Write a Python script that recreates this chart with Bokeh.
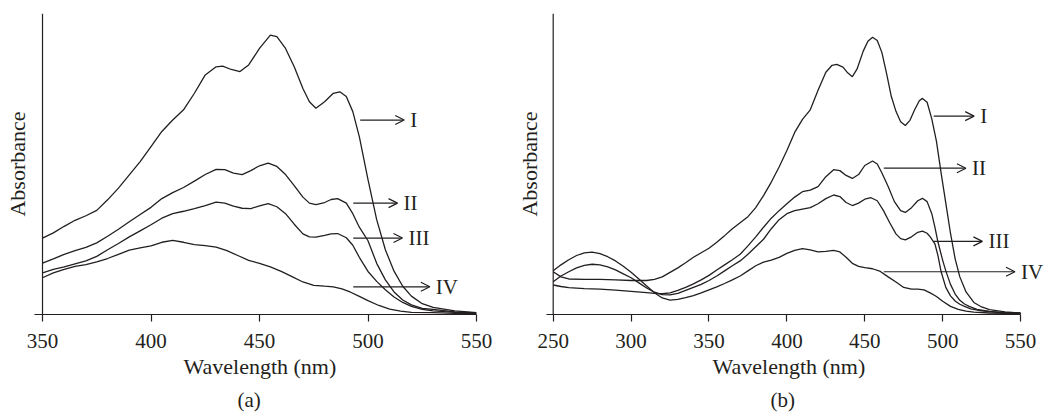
from bokeh.plotting import figure
from bokeh.layouts import row
from bokeh.models import Range1d, FixedTicker, Span, Arrow, OpenHead, Label, Title
from bokeh.embed import file_html
from bokeh.resources import INLINE

# ---------------- data: panel (a) ----------------
a_I_nm = [350, 355, 360, 365, 370, 375, 380, 385, 390, 395, 400, 405, 410, 415, 420, 425, 430, 433, 437, 441,
          445, 450, 455, 458, 462, 466, 470, 473, 476, 480, 484, 487, 490, 493, 496, 500, 504, 508, 512, 516,
          520, 525, 530, 540, 550]
a_I_abs = [0.254, 0.271, 0.293, 0.313, 0.328, 0.346, 0.381, 0.420, 0.464, 0.508, 0.558, 0.608, 0.646, 0.680, 0.735,
           0.796, 0.823, 0.825, 0.814, 0.807, 0.829, 0.884, 0.928, 0.923, 0.884, 0.823, 0.751, 0.707, 0.685, 0.707,
           0.735, 0.740, 0.724, 0.674, 0.591, 0.448, 0.315, 0.215, 0.144, 0.094, 0.061, 0.036, 0.024, 0.012, 0.006]

a_II_nm = [350, 355, 360, 365, 370, 375, 380, 385, 390, 395, 400, 405, 410, 415, 420, 425, 430, 434, 438, 442,
           446, 450, 454, 458, 462, 466, 470, 473, 476, 480, 483, 486, 490, 493, 496, 500, 504, 508, 512, 516,
           520, 525, 530, 540, 550]
a_II_abs = [0.171, 0.185, 0.200, 0.212, 0.223, 0.238, 0.260, 0.283, 0.308, 0.332, 0.356, 0.385, 0.405, 0.422, 0.443,
            0.465, 0.482, 0.481, 0.470, 0.465, 0.478, 0.494, 0.503, 0.492, 0.465, 0.428, 0.390, 0.370, 0.365, 0.372,
            0.382, 0.385, 0.370, 0.335, 0.290, 0.245, 0.170, 0.115, 0.075, 0.048, 0.032, 0.020, 0.017, 0.009, 0.005]

a_III_nm = a_II_nm
a_III_abs = [0.138, 0.150, 0.158, 0.168, 0.178, 0.193, 0.215, 0.236, 0.258, 0.278, 0.298, 0.320, 0.335, 0.343, 0.352,
             0.362, 0.373, 0.370, 0.360, 0.353, 0.352, 0.361, 0.368, 0.358, 0.335, 0.300, 0.268, 0.258, 0.257, 0.263,
             0.268, 0.269, 0.255, 0.230, 0.190, 0.143, 0.110, 0.082, 0.058, 0.040, 0.027, 0.017, 0.012, 0.007, 0.004]

a_IV_nm = [350, 355, 360, 365, 370, 375, 380, 385, 390, 395, 400, 405, 410, 415, 420, 425, 430, 435, 440, 445,
           450, 455, 460, 465, 470, 475, 480, 484, 488, 492, 496, 500, 505, 510, 515, 520, 530, 540, 550]
a_IV_abs = [0.122, 0.138, 0.150, 0.160, 0.166, 0.175, 0.186, 0.200, 0.214, 0.221, 0.228, 0.240, 0.246, 0.240, 0.232,
            0.229, 0.224, 0.212, 0.196, 0.180, 0.170, 0.158, 0.143, 0.126, 0.108, 0.097, 0.094, 0.092, 0.085, 0.074,
            0.060, 0.046, 0.030, 0.018, 0.011, 0.007, 0.006, 0.004, 0.003]

# ---------------- data: panel (b) ----------------
b_I_nm = [250, 255, 260, 270, 280, 290, 300, 310, 315, 320, 325, 330, 335, 340, 345, 350, 355, 360, 365, 370,
          375, 380, 385, 390, 395, 400, 405, 410, 415, 420, 425, 429, 432, 436, 439, 442, 445, 449, 452, 455,
          458, 461, 464, 467, 470, 473, 476, 479, 482, 485, 487, 490, 493, 496, 499, 502, 505, 508, 511, 515,
          520, 525, 530, 540, 550]
b_I_abs = [0.142, 0.125, 0.118, 0.117, 0.117, 0.115, 0.113, 0.113, 0.117, 0.125, 0.140, 0.155, 0.172, 0.190, 0.205,
           0.220, 0.240, 0.262, 0.285, 0.305, 0.325, 0.355, 0.395, 0.440, 0.490, 0.545, 0.605, 0.648, 0.680, 0.745,
           0.805, 0.828, 0.831, 0.822, 0.803, 0.790, 0.815, 0.875, 0.908, 0.921, 0.910, 0.870, 0.800, 0.725, 0.675,
           0.640, 0.628, 0.645, 0.680, 0.710, 0.718, 0.705, 0.650, 0.575, 0.470, 0.370, 0.270, 0.185, 0.125, 0.075,
           0.040, 0.025, 0.016, 0.009, 0.005]

b_II_nm = [250, 255, 260, 270, 280, 290, 300, 310, 315, 320, 325, 330, 335, 340, 345, 350, 355, 360, 365, 370,
           375, 380, 385, 390, 395, 400, 405, 410, 415, 420, 425, 430, 434, 438, 442, 446, 450, 455, 458, 461,
           465, 469, 473, 476, 480, 484, 487, 490, 493, 495, 497, 500, 502, 505, 508, 511, 514, 517, 522, 530,
           540, 550]
b_II_abs = [0.098, 0.093, 0.089, 0.086, 0.084, 0.081, 0.077, 0.073, 0.070, 0.069, 0.072, 0.080, 0.090, 0.102, 0.115,
            0.130, 0.148, 0.165, 0.182, 0.200, 0.228, 0.258, 0.290, 0.320, 0.345, 0.368, 0.390, 0.408, 0.413, 0.425,
            0.458, 0.481, 0.478, 0.462, 0.452, 0.465, 0.495, 0.510, 0.500, 0.470, 0.425, 0.375, 0.345, 0.339, 0.355,
            0.378, 0.386, 0.375, 0.335, 0.290, 0.240, 0.180, 0.145, 0.100, 0.068, 0.047, 0.035, 0.027, 0.017, 0.010,
            0.006, 0.004]

b_III_nm = [250, 255, 260, 265, 270, 275, 280, 285, 290, 295, 300, 305, 310, 315, 320, 325, 330, 335, 340, 345,
            350, 355, 360, 365, 370, 375, 380, 385, 390, 395, 400, 405, 410, 415, 420, 425, 430, 434, 438, 442,
            446, 450, 454, 458, 462, 466, 470, 473, 476, 480, 484, 487, 490, 492, 495, 497, 499, 502, 505, 508,
            511, 514, 518, 525, 535, 550]
b_III_abs = [0.109, 0.128, 0.142, 0.155, 0.163, 0.167, 0.165, 0.158, 0.148, 0.135, 0.122, 0.105, 0.088, 0.074, 0.066,
             0.065, 0.070, 0.080, 0.090, 0.100, 0.113, 0.128, 0.145, 0.162, 0.178, 0.200, 0.225, 0.250, 0.285, 0.315,
             0.335, 0.345, 0.350, 0.355, 0.368, 0.385, 0.397, 0.392, 0.372, 0.362, 0.370, 0.383, 0.388, 0.378, 0.345,
             0.305, 0.268, 0.252, 0.248, 0.258, 0.273, 0.277, 0.270, 0.258, 0.235, 0.195, 0.142, 0.090, 0.062, 0.045,
             0.034, 0.027, 0.019, 0.012, 0.007, 0.004]

b_IV_nm = [250, 255, 260, 265, 270, 275, 280, 285, 290, 295, 300, 305, 310, 315, 320, 325, 330, 335, 340, 345,
           350, 355, 360, 365, 370, 375, 380, 385, 390, 395, 400, 405, 410, 415, 420, 425, 430, 434, 438, 442,
           446, 450, 455, 460, 465, 470, 475, 480, 484, 488, 492, 496, 500, 505, 510, 515, 520, 530, 550]
b_IV_abs = [0.145, 0.165, 0.182, 0.196, 0.205, 0.207, 0.202, 0.192, 0.178, 0.160, 0.140, 0.118, 0.095, 0.072, 0.055,
            0.048, 0.050, 0.056, 0.063, 0.072, 0.082, 0.092, 0.103, 0.115, 0.128, 0.145, 0.162, 0.174, 0.181, 0.190,
            0.203, 0.213, 0.219, 0.215, 0.208, 0.210, 0.213, 0.208, 0.190, 0.170, 0.160, 0.156, 0.152, 0.143, 0.125,
            0.108, 0.090, 0.084, 0.084, 0.082, 0.072, 0.060, 0.044, 0.027, 0.017, 0.011, 0.008, 0.005, 0.003]

# ---------------- annotations (arrow starts/ends, labels) ----------------
curve_labels = ["I", "II", "III", "IV"]
a_arrow_x0 = [496.4, 493.2, 493.2, 493.2]
a_arrow_x1 = [516.7, 513.6, 515.9, 528.5]
a_arrow_y = [0.646, 0.370, 0.254, 0.092]
b_arrow_x0 = [494.2, 462.2, 494.2, 462.2]
b_arrow_x1 = [520.2, 514.9, 525.5, 546.4]
b_arrow_y = [0.659, 0.486, 0.243, 0.142]

a_ticks = [350, 400, 450, 500, 550]
b_ticks = [250, 300, 350, 400, 450, 500, 550]
x_title = "Wavelength (nm)"
y_title = "Absorbance"

INK = "#231f20"
FONT = "Liberation Serif"
TICK_FS = "21px"
LABEL_FS = "22px"
NOTE_FS = "21px"


def panel(width, x_range, axis_start, ticks, series, arrows, caption, borders, title_offsets):
    bl, br, bt, bb = borders
    p = figure(width=width, height=416, x_range=Range1d(*x_range), y_range=Range1d(0, 1.0),
               output_backend="svg", toolbar_location=None,
               min_border_left=bl, min_border_right=br, min_border_top=bt, min_border_bottom=bb)
    p.grid.visible = False
    p.outline_line_color = None
    p.background_fill_color = "white"
    p.border_fill_color = "white"

    xa = p.xaxis[0]
    xa.ticker = FixedTicker(ticks=ticks)
    xa.bounds = (x_range[0], 550)
    xa.minor_tick_line_color = None
    xa.major_tick_out = 7
    xa.major_tick_in = 0
    xa.axis_line_color = INK
    xa.axis_line_width = 1.2
    xa.major_tick_line_color = INK
    xa.major_tick_line_width = 1.2
    xa.major_label_text_font = FONT
    xa.major_label_text_font_size = TICK_FS
    xa.major_label_text_color = INK
    xa.major_label_standoff = 12

    ya = p.yaxis[0]
    ya.ticker = FixedTicker(ticks=[])
    ya.axis_line_color = None
    ya.major_tick_out = 0
    ya.major_tick_in = 0
    ya.minor_tick_line_color = None
    ya.major_label_standoff = 0
    ya.axis_label = y_title
    ya.axis_label_text_font = FONT
    ya.axis_label_text_font_size = LABEL_FS
    ya.axis_label_text_font_style = "normal"
    ya.axis_label_text_color = INK
    ya.axis_label_standoff = 5

    p.add_layout(Span(location=axis_start, dimension="height", line_color=INK, line_width=1.2))

    for nm, ab in series:
        p.line(nm, ab, line_color=INK, line_width=1.3)

    x0s, x1s, ys = arrows
    for x0, x1, y, lab in zip(x0s, x1s, ys, curve_labels):
        p.add_layout(Arrow(x_start=x0, y_start=y, x_end=x1, y_end=y, line_color=INK, line_width=1.2,
                           end=OpenHead(size=9, line_color=INK, line_width=1.2)))
        p.add_layout(Label(x=x1, y=y, x_offset=6, text=lab, text_font=FONT, text_font_size=NOTE_FS,
                           text_color=INK, text_baseline="middle", text_align="left"))

    off_x, off_cap = title_offsets
    p.add_layout(Title(text=x_title, align="left", offset=off_x, text_font=FONT, text_font_size=LABEL_FS,
                       text_font_style="normal", text_color=INK, standoff=3), "below")
    p.add_layout(Title(text=caption, align="left", offset=off_cap, text_font=FONT, text_font_size=NOTE_FS,
                       text_font_style="normal", text_color=INK, standoff=10), "below")
    return p


p1 = panel(513, (346.31, 550), 350, a_ticks,
           [(a_I_nm, a_I_abs), (a_II_nm, a_II_abs), (a_III_nm, a_III_abs), (a_IV_nm, a_IV_abs)],
           (a_arrow_x0, a_arrow_x1, a_arrow_y), "(a)", (34, 37, 13, 101), (149, 203))
p2 = panel(531, (245.7, 565.35), 250, b_ticks,
           [(b_I_nm, b_I_abs), (b_II_nm, b_II_abs), (b_III_nm, b_III_abs), (b_IV_nm, b_IV_abs)],
           (b_arrow_x0, b_arrow_x1, b_arrow_y), "(b)", (31, 0, 13, 98), (166, 224))

layout = row(p1, p2)
open("out.html", "w").write(file_html(layout, INLINE))
